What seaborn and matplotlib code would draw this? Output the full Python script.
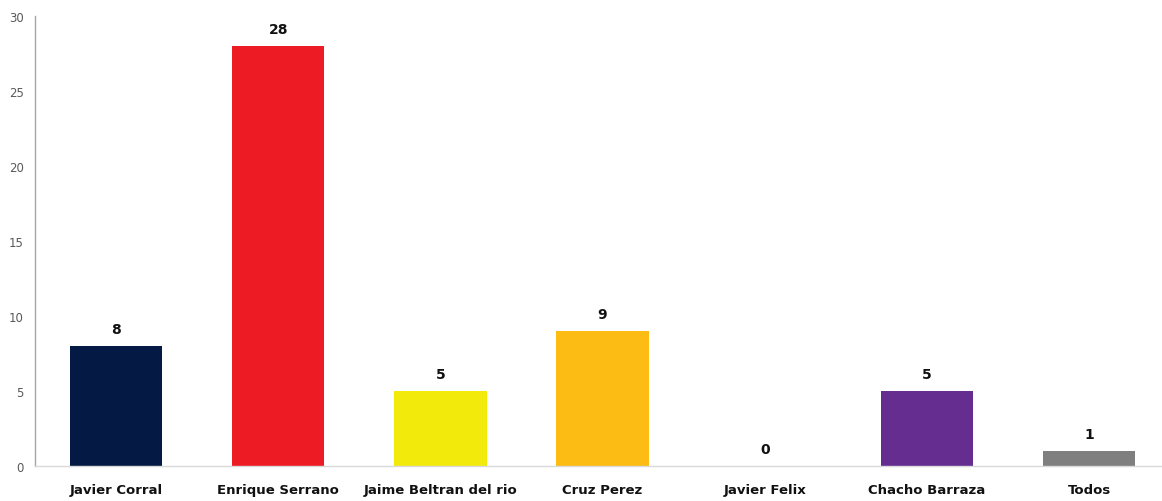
import matplotlib
matplotlib.use("Agg")
import matplotlib.pyplot as plt
import seaborn as sns
import pandas as pd

candidates = ["Javier Corral", "Enrique Serrano", "Jaime Beltran del rio", "Cruz Perez",
              "Javier Felix", "Chacho Barraza", "Todos"]
votes = [8, 28, 5, 9, 0, 5, 1]
bar_colors = ["#041A45", "#ED1C24", "#F2EA0A", "#FDBC14", "#9E9E9E", "#662D91", "#7F7F7F"]

sns.set_theme(style="white")
plt.rcParams["font.family"] = ["DejaVu Sans"]

df = pd.DataFrame({"candidate": candidates, "votes": votes})

fig = plt.figure(figsize=(11.62, 5.02), dpi=100)
ax = fig.add_axes([0.0301, 0.0697, 0.9699, 0.8963])

sns.barplot(data=df, x="candidate", y="votes", hue="candidate", palette=bar_colors,
            width=0.57, legend=False, ax=ax, saturation=1, linewidth=0)

for i, v in enumerate(votes):
    ax.annotate(str(v), (i, v), xytext=(0, 7), textcoords="offset points",
                ha="center", va="bottom", fontsize=10, fontweight="bold", color="#111111")

ax.set_xlim(-0.5, 6.45)
ax.set_ylim(0, 30)
ax.set_yticks(range(0, 31, 5))
ax.set_xlabel("")
ax.set_ylabel("")
ax.tick_params(axis="y", labelsize=8.5, colors="#595959", length=0, pad=8)
ax.tick_params(axis="x", labelsize=9.5, length=0, pad=12)
for lbl in ax.get_xticklabels():
    lbl.set_fontweight("bold")
    lbl.set_color("#111111")

for side in ["top", "right"]:
    ax.spines[side].set_visible(False)
ax.spines["left"].set_color("#A6A6A6")
ax.spines["left"].set_linewidth(1)
ax.spines["bottom"].set_color("#D9D9D9")
ax.spines["bottom"].set_linewidth(1)

fig.savefig("out.png", dpi=100)
